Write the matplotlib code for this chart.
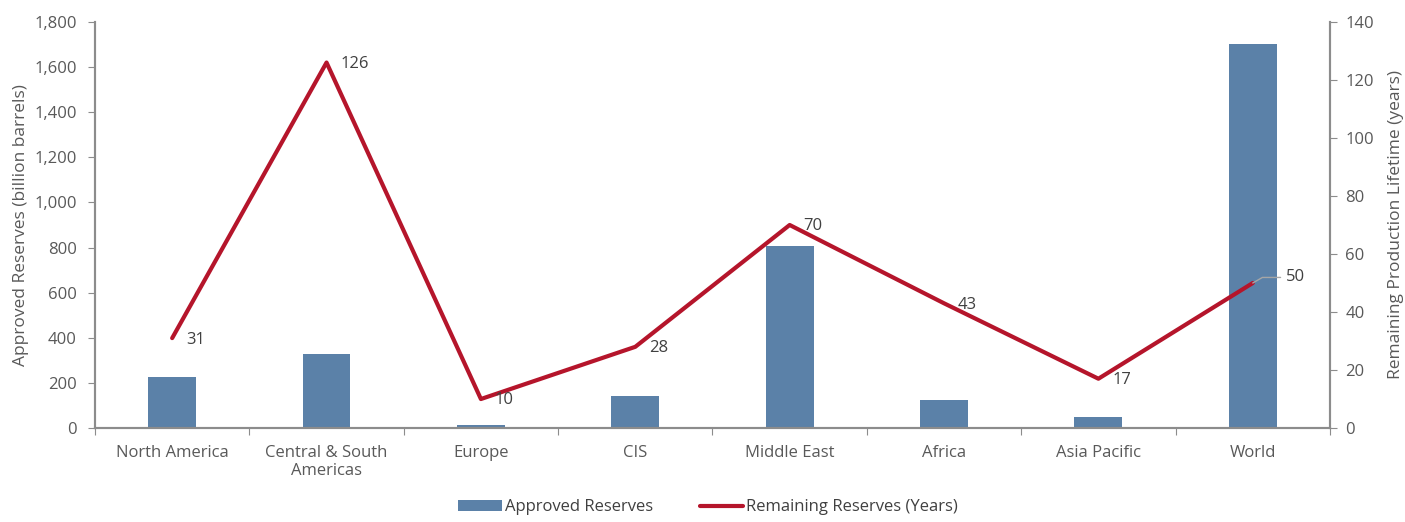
import matplotlib.pyplot as plt
import numpy as np

plt.rcParams['font.family'] = ['Open Sans', 'DejaVu Sans']

regions = ["North America", "Central & South\nAmericas", "Europe", "CIS",
           "Middle East", "Africa", "Asia Pacific", "World"]
approved_reserves = [227, 330, 14, 143, 807, 125, 50, 1702]
remaining_years = [31, 126, 10, 28, 70, 43, 17, 50]

BAR_COLOR = "#5B81A8"
LINE_COLOR = "#B5152B"
TEXT_COLOR = "#595959"
SPINE_COLOR = "#8C8C8C"

fig = plt.figure(figsize=(14.05, 5.22), dpi=100)
ax = fig.add_axes([0.0676, 0.180, 0.879, 0.778])
ax2 = ax.twinx()

x = np.arange(len(regions))
ax.bar(x, approved_reserves, width=0.31, color=BAR_COLOR, label="Approved Reserves", zorder=2)
ax2.plot(x, remaining_years, color=LINE_COLOR, lw=3, solid_capstyle="round",
         label="Remaining Reserves (Years)", zorder=3)

for i, v in enumerate(remaining_years):
    if i == len(remaining_years) - 1:
        ax2.annotate(str(v), (x[i], v), xytext=(24, 4), textcoords="offset points",
                     ha="left", va="center", fontsize=12, color="#404040",
                     arrowprops=dict(arrowstyle="-", color="#A6A6A6", lw=1,
                                     shrinkA=2, shrinkB=0,
                                     connectionstyle="angle,angleA=0,angleB=30,rad=0"))
    else:
        ax2.annotate(str(v), (x[i], v), xytext=(10, -1), textcoords="offset points",
                     ha="left", va="center", fontsize=12, color="#404040")

ax.set_xlim(-0.5, len(regions) - 0.5)
ax.set_ylim(0, 1800)
ax2.set_ylim(0, 140)
ax.set_yticks(np.arange(0, 1801, 200))
ax.set_yticklabels([f"{t:,}" for t in range(0, 1801, 200)])
ax2.set_yticks(np.arange(0, 141, 20))

ax.set_xticks(np.arange(-0.5, len(regions), 1.0))
ax.set_xticklabels([])
ax.set_xticks(x, minor=True)
ax.set_xticklabels(regions, minor=True)
ax.tick_params(axis="x", which="minor", length=0, pad=12, labelsize=12, labelcolor=TEXT_COLOR)
ax.tick_params(axis="x", which="major", length=5, color=SPINE_COLOR)
ax.tick_params(axis="y", length=5, color=SPINE_COLOR, labelsize=12, labelcolor=TEXT_COLOR, pad=8)
ax2.tick_params(axis="y", length=5, color=SPINE_COLOR, labelsize=12, labelcolor=TEXT_COLOR, pad=6)

for a in (ax, ax2):
    a.spines["top"].set_visible(False)
    for s in ("left", "right", "bottom"):
        a.spines[s].set_color(SPINE_COLOR)
        a.spines[s].set_linewidth(1.5)

ax.set_ylabel("Approved Reserves (billion barrels)", fontsize=12.5, color=TEXT_COLOR, labelpad=4)
ax2.set_ylabel("Remaining Production Lifetime (years)", fontsize=12.5, color=TEXT_COLOR, labelpad=10)

h1, l1 = ax.get_legend_handles_labels()
h2, l2 = ax2.get_legend_handles_labels()
fig.legend(h1 + h2, l1 + l2, loc="center", bbox_to_anchor=(0.504, 0.028), ncol=2,
           frameon=False, fontsize=12, labelcolor="#404040", handlelength=2.6,
           handletextpad=0.2, columnspacing=2.8)

fig.savefig("out.png", dpi=100)
